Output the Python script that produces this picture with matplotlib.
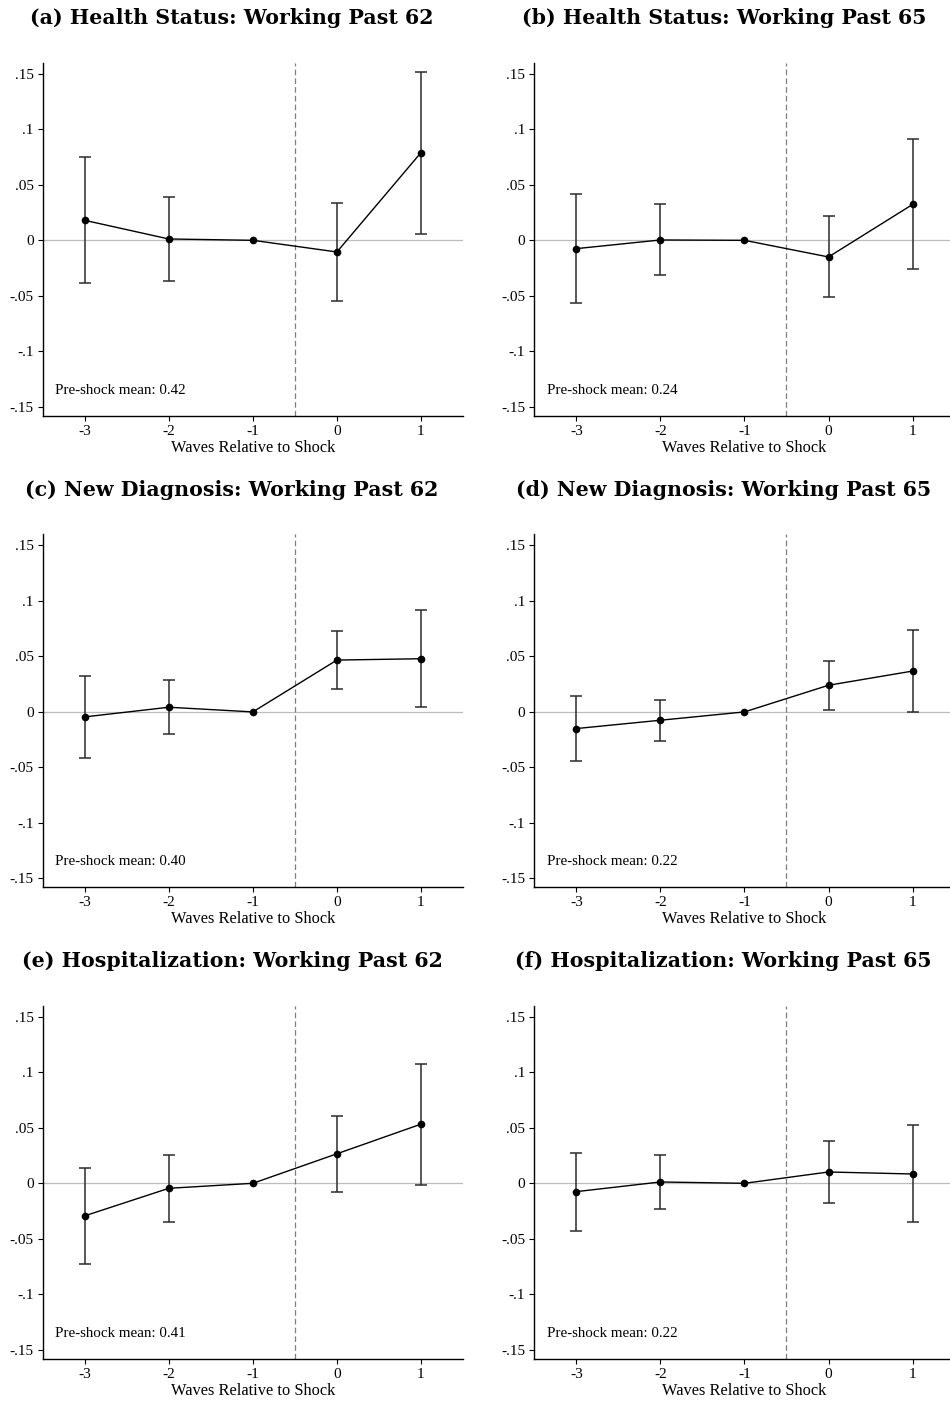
import numpy as np
import matplotlib
matplotlib.use("Agg")
import matplotlib.pyplot as plt

plt.rcParams["font.family"] = ["Liberation Serif", "DejaVu Serif"]

# -------------------------------------------------------------------
# Data
# -------------------------------------------------------------------
waves = [-3, -2, -1, 0, 1]
xtick_labels = ["-3", "-2", "-1", "0", "1"]
yticks = [0.15, 0.1, 0.05, 0.0, -0.05, -0.1, -0.15]
ytick_labels = [".15", ".1", ".05", "0", "-.05", "-.1", "-.15"]

titles = [
    "(a) Health Status: Working Past 62",
    "(b) Health Status: Working Past 65",
    "(c) New Diagnosis: Working Past 62",
    "(d) New Diagnosis: Working Past 65",
    "(e) Hospitalization: Working Past 62",
    "(f) Hospitalization: Working Past 65",
]
pre_means = ["0.42", "0.24", "0.40", "0.22", "0.41", "0.22"]

coef_a = [0.018, 0.0012, 0.0, -0.0105, 0.079]
lo_a = [-0.0386, -0.0367, 0.0, -0.0545, 0.006]
hi_a = [0.0753, 0.039, 0.0, 0.034, 0.152]

coef_b = [-0.0075, 0.0003, 0.0, -0.015, 0.0323]
lo_b = [-0.0563, -0.0317, 0.0, -0.0515, -0.026]
hi_b = [0.0413, 0.0326, 0.0, 0.0216, 0.0913]

coef_c = [-0.0045, 0.0042, 0.0, 0.0467, 0.0479]
lo_c = [-0.0413, -0.0199, 0.0, 0.0202, 0.0045]
hi_c = [0.0322, 0.0283, 0.0, 0.0729, 0.0919]

coef_d = [-0.015, -0.0075, 0.0, 0.024, 0.0368]
lo_d = [-0.0446, -0.026, 0.0, 0.0015, 0.0003]
hi_d = [0.0144, 0.0111, 0.0, 0.0461, 0.0737]

coef_e = [-0.0293, -0.0045, 0.0, 0.0266, 0.0533]
lo_e = [-0.0728, -0.0347, 0.0, -0.0078, -0.0012]
hi_e = [0.0141, 0.0257, 0.0, 0.0608, 0.1075]

coef_f = [-0.0075, 0.0012, 0.0, 0.0102, 0.0084]
lo_f = [-0.0428, -0.0228, 0.0, -0.0177, -0.0353]
hi_f = [0.0272, 0.0251, 0.0, 0.0377, 0.0524]

panels = [
    (coef_a, lo_a, hi_a), (coef_b, lo_b, hi_b),
    (coef_c, lo_c, hi_c), (coef_d, lo_d, hi_d),
    (coef_e, lo_e, hi_e), (coef_f, lo_f, hi_f),
]

# -------------------------------------------------------------------
# Figure layout (pixel based, 950 x 1401)
# -------------------------------------------------------------------
W, H = 950, 1401
fig = plt.figure(figsize=(W / 100, H / 100), dpi=100)

col_x0 = [42.7, 534.3]
row_top = [62.7, 534.3, 1005.7]
ax_w, ax_h = 420.3, 353.0
title_x = [232, 723.7]
title_base = [24, 496, 967.3]

for i, (coef, lo, hi) in enumerate(panels):
    r, c = divmod(i, 2)
    ax = fig.add_axes([col_x0[c] / W, 1 - (row_top[r] + ax_h) / H, ax_w / W, ax_h / H])

    coef = np.array(coef)
    yerr = np.vstack([coef - np.array(lo), np.array(hi) - coef])
    nz = np.array(lo) != np.array(hi)

    ax.axhline(0, color="#bdbdbd", lw=0.9, zorder=1)
    ax.axvline(-0.5, color="#7f7f7f", lw=0.9, ls=(0, (4.5, 2.5)), zorder=1)
    ax.errorbar(np.array(waves)[nz], coef[nz], yerr=yerr[:, nz], fmt="none",
                ecolor="#2b2b2b", elinewidth=1.1, capsize=4.5, capthick=1.1, zorder=3)
    ax.plot(waves, coef, color="black", lw=1.0, marker="o", ms=4.5, zorder=4)

    ax.text(-3.35, -0.135, f"Pre-shock mean: {pre_means[i]}", fontsize=10.8,
            va="center", ha="left")

    ax.set_xlim(-3.5, 1.5)
    ax.set_ylim(-0.158, 0.16)
    ax.set_xticks(waves)
    ax.set_xticklabels(xtick_labels)
    ax.set_yticks(yticks)
    ax.set_yticklabels(ytick_labels)
    ax.tick_params(labelsize=11, length=3.5, width=0.8, pad=3)
    ax.set_xlabel("Waves Relative to Shock", fontsize=11.8, labelpad=1.5)

    for side in ["top", "right"]:
        ax.spines[side].set_visible(False)
    for side in ["left", "bottom"]:
        ax.spines[side].set_linewidth(1.0)

    fig.text(title_x[c] / W, 1 - title_base[r] / H, titles[i], ha="center",
             va="baseline", fontsize=14.8, family="DejaVu Serif", weight="bold")

fig.savefig("out.png", dpi=100)
